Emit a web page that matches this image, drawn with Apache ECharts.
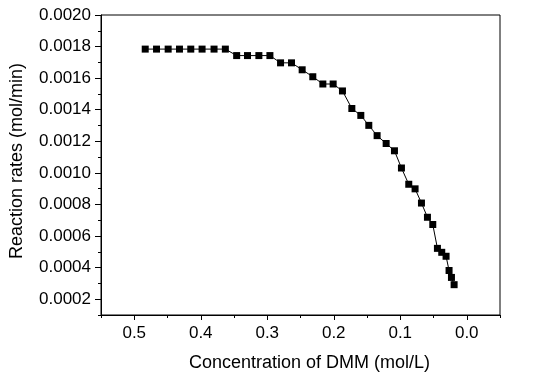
<!DOCTYPE html>
<html>
<head>
<meta charset="utf-8">
<script src="https://cdn.jsdelivr.net/npm/echarts@6/dist/echarts.min.js"></script>
<style>
  html, body { margin: 0; padding: 0; background: #fff; }
  #chart { width: 534px; height: 377px; }
</style>
</head>
<body>
<div id="chart"></div>
<script>
  var concentration = [0.4835, 0.4665, 0.449, 0.432, 0.415, 0.398, 0.380, 0.363,
    0.346, 0.3297, 0.3126, 0.296, 0.280, 0.2635, 0.2475, 0.2315, 0.2164, 0.2009,
    0.1869, 0.1728, 0.1593, 0.1473, 0.1348, 0.1212, 0.1087, 0.0982, 0.0872, 0.0777,
    0.0681, 0.0591, 0.0511, 0.0441, 0.0376, 0.0311, 0.0266, 0.023, 0.019]
  var rates = [0.001784, 0.001784, 0.001784, 0.001784, 0.001784, 0.001784, 0.001784, 0.001784,
    0.001743, 0.001743, 0.001743, 0.001743, 0.001697, 0.001697, 0.001653, 0.001609, 0.001563, 0.001563,
    0.001519, 0.001408, 0.001364, 0.001301, 0.001236, 0.001186, 0.00114, 0.001031, 0.000928, 0.000899,
    0.000809, 0.000719, 0.000673, 0.000522, 0.000497, 0.000472, 0.000382, 0.000338, 0.000292]

  var xLabels = [0, 0.1, 0.2, 0.3, 0.4, 0.5]
  var xMinor = [-0.05, 0.05, 0.15, 0.25, 0.35, 0.45, 0.55]
  var yLabels = [0.0002, 0.0004, 0.0006, 0.0008, 0.0010, 0.0012, 0.0014, 0.0016, 0.0018, 0.0020]
  var yMinor = [0.0001, 0.0003, 0.0005, 0.0007, 0.0009, 0.0011, 0.0013, 0.0015, 0.0017, 0.0019]

  var points = concentration.map(function (c, i) { return [c, rates[i]] })

  var font = 'Liberation Sans, Arial, sans-serif'
  var black = '#000'

  var chart = echarts.init(document.getElementById('chart'))
  chart.setOption({
    animation: false,
    backgroundColor: '#fff',
    grid: {
      left: 101, right: 34, top: 15, bottom: 60,
      show: true, borderColor: black, borderWidth: 1, backgroundColor: 'transparent'
    },
    xAxis: [
      {
        type: 'value', min: -0.05, max: 0.55, inverse: true,
        name: 'Concentration of DMM (mol/L)', nameLocation: 'middle', nameGap: 39,
        nameTextStyle: { color: black, fontSize: 18, fontFamily: font, padding: [0, 0, 0, 18] },
        axisLine: { show: true, onZero: false, lineStyle: { color: black, width: 1 } },
        axisTick: { show: true, length: 5, customValues: xLabels, lineStyle: { color: black } },
        axisLabel: {
          customValues: xLabels, margin: 10, color: black, fontSize: 17, fontFamily: font,
          formatter: function (v) { return v.toFixed(1) }
        },
        splitLine: { show: false }
      },
      {
        type: 'value', min: -0.05, max: 0.55, inverse: true, position: 'bottom',
        axisLine: { show: false, onZero: false },
        axisTick: { show: true, length: 3, customValues: xMinor, lineStyle: { color: black } },
        axisLabel: { show: false },
        splitLine: { show: false }
      }
    ],
    yAxis: [
      {
        type: 'value', min: 0.0001, max: 0.0020,
        name: 'Reaction rates (mol/min)', nameLocation: 'middle', nameGap: 75,
        nameTextStyle: { color: black, fontSize: 18, fontFamily: font, padding: [0, 0, 0, 8] },
        axisLine: { show: true, onZero: false, lineStyle: { color: black, width: 1 } },
        axisTick: { show: true, length: 6, customValues: yLabels, lineStyle: { color: black } },
        axisLabel: {
          customValues: yLabels, margin: 10, color: black, fontSize: 17, fontFamily: font,
          formatter: function (v) { return v.toFixed(4) }
        },
        splitLine: { show: false }
      },
      {
        type: 'value', min: 0.0001, max: 0.0020, position: 'left',
        axisLine: { show: false, onZero: false },
        axisTick: { show: true, length: 3, customValues: yMinor, lineStyle: { color: black } },
        axisLabel: { show: false },
        splitLine: { show: false }
      }
    ],
    series: [
      {
        type: 'line',
        data: points,
        symbol: 'rect',
        symbolSize: 7,
        lineStyle: { color: black, width: 1 },
        itemStyle: { color: black }
      }
    ]
  })
</script>
</body>
</html>
